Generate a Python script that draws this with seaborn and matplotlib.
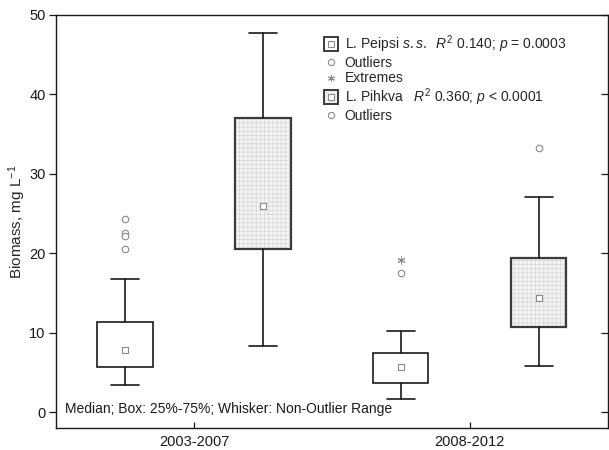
import numpy as np
import pandas as pd
import matplotlib
matplotlib.use("Agg")
import matplotlib.pyplot as plt
from matplotlib.lines import Line2D
from matplotlib.legend_handler import HandlerTuple
import seaborn as sns

# ---------------- data ----------------
periods = ["2003-2007", "2008-2012"]
lakes = ["L. Peipsi", "L. Pihkva"]

peipsi_med = [7.8, 5.7]
peipsi_q1 = [5.7, 3.6]
peipsi_q3 = [11.3, 7.4]
peipsi_wlo = [3.4, 1.6]
peipsi_whi = [16.7, 10.2]

pihkva_med = [25.9, 14.4]
pihkva_q1 = [20.5, 10.7]
pihkva_q3 = [37.0, 19.4]
pihkva_wlo = [8.3, 5.8]
pihkva_whi = [47.7, 27.1]

peipsi_out_period = ["2003-2007", "2003-2007", "2003-2007", "2003-2007", "2008-2012"]
peipsi_out_value = [24.3, 22.5, 22.1, 20.5, 17.5]
peipsi_ext_period = ["2008-2012"]
peipsi_ext_value = [19.2]
pihkva_out_period = ["2008-2012"]
pihkva_out_value = [33.2]

ylabel = "Biomass, mg L$^{-1}$"
note = "Median; Box: 25%-75%; Whisker: Non-Outlier Range"
label_peipsi = "L. Peipsi $\\it{s.s.}$  $\\it{R}^2$ 0.140; $\\it{p}$ = 0.0003"
label_pihkva = "L. Pihkva   $\\it{R}^2$ 0.360; $\\it{p}$ < 0.0001"

# ---------------- style ----------------
sns.set_theme(style="ticks")
plt.rcParams["font.family"] = ["Liberation Sans", "DejaVu Sans"]
plt.rcParams["mathtext.fontset"] = "custom"
plt.rcParams["mathtext.rm"] = "Liberation Sans"
plt.rcParams["mathtext.it"] = "Liberation Sans:italic"
plt.rcParams["mathtext.bf"] = "Liberation Sans:bold"
plt.rcParams["hatch.linewidth"] = 0.6

fig = plt.figure(figsize=(6.09, 4.5), dpi=100)
ax = fig.add_axes([0.092, 0.049, 0.906, 0.918])

offset = {"L. Peipsi": -0.25, "L. Pihkva": 0.25}
xpos = {p: i for i, p in enumerate(periods)}

def stats(med, q1, q3, lo, hi):
    return [dict(med=m, q1=a, q3=b, whislo=l, whishi=h, fliers=[])
            for m, a, b, l, h in zip(med, q1, q3, lo, hi)]

pos_pe = [xpos[p] + offset["L. Peipsi"] for p in periods]
pos_pi = [xpos[p] + offset["L. Pihkva"] for p in periods]

st_pe = stats(peipsi_med, peipsi_q1, peipsi_q3, peipsi_wlo, peipsi_whi)
st_pi = stats(pihkva_med, pihkva_q1, pihkva_q3, pihkva_wlo, pihkva_whi)

# hatched light fill for Pihkva
ax.bxp(st_pi, positions=pos_pi, widths=0.2, patch_artist=True, showcaps=False,
       boxprops=dict(facecolor="#f4f4f4", edgecolor="#dadada", hatch="++++", linewidth=0),
       whiskerprops=dict(linewidth=0), medianprops=dict(linewidth=0), zorder=1)

lw = 1.2
ax.bxp(st_pe, positions=pos_pe, widths=0.2, capwidths=0.1, patch_artist=True,
       boxprops=dict(facecolor="white", edgecolor="#1a1a1a", linewidth=lw),
       whiskerprops=dict(color="#1a1a1a", linewidth=lw),
       capprops=dict(color="#1a1a1a", linewidth=lw),
       medianprops=dict(linewidth=0), zorder=2)
ax.bxp(st_pi, positions=pos_pi, widths=0.2, capwidths=0.1, patch_artist=True,
       boxprops=dict(facecolor="none", edgecolor="#3a3a3a", linewidth=1.6),
       whiskerprops=dict(color="#1a1a1a", linewidth=lw),
       capprops=dict(color="#1a1a1a", linewidth=lw),
       medianprops=dict(linewidth=0), zorder=2)

# medians
med_df = pd.DataFrame({"pos": pos_pe + pos_pi, "value": peipsi_med + pihkva_med})
sns.scatterplot(data=med_df, x="pos", y="value", marker="s", s=22,
                facecolor="white", edgecolor="#8a8a8a", linewidth=0.8, ax=ax, zorder=4)

out_df = pd.DataFrame({
    "pos": [xpos[p] + offset["L. Peipsi"] for p in peipsi_out_period]
           + [xpos[p] + offset["L. Pihkva"] for p in pihkva_out_period],
    "value": peipsi_out_value + pihkva_out_value})
sns.scatterplot(data=out_df, x="pos", y="value", marker="o", s=22,
                facecolor="white", edgecolor="#8a8a8a", linewidth=0.8, ax=ax, zorder=4)

ext_df = pd.DataFrame({"pos": [xpos[p] + offset["L. Peipsi"] for p in peipsi_ext_period],
                       "value": peipsi_ext_value})
sns.scatterplot(data=ext_df, x="pos", y="value", marker=(6, 2, 0), s=25,
                color="#8a8a8a", linewidth=0.7, ax=ax, zorder=4)

# axes
ax.set_xlim(-0.5, 1.5)
ax.set_ylim(-2, 50)
ax.set_xticks(range(len(periods)))
ax.set_xticklabels(periods)
ax.set_yticks([0, 10, 20, 30, 40, 50])
ax.set_xlabel("")
ax.set_ylabel(ylabel, fontsize=11, labelpad=1)
for s in ax.spines.values():
    s.set_visible(True)
    s.set_color("#1a1a1a")
    s.set_linewidth(1.0)
ax.tick_params(axis="y", which="both", direction="out", length=5, width=0.9,
               colors="#1a1a1a", labelsize=10.5, right=True, labelright=False, pad=2.5)
ax.tick_params(axis="x", direction="in", length=4, width=0.9, colors="#1a1a1a",
               labelsize=10.5, pad=5)
for t in ax.yaxis.get_ticklines()[1::2]:
    t.set_marker(matplotlib.markers.TICKLEFT)

ax.text(0.017, 0.045, note, transform=ax.transAxes, fontsize=10, ha="left", va="center",
        color="#1a1a1a")

# legend
h_pe = (Line2D([], [], marker="s", ms=10, mfc="white", mec="#1a1a1a", mew=1.2, ls=""),
        Line2D([], [], marker="s", ms=4, mfc="white", mec="#8a8a8a", mew=0.8, ls=""))
h_out = Line2D([], [], marker="o", ms=4.5, mfc="white", mec="#8a8a8a", mew=0.8, ls="")
h_ext = Line2D([], [], marker=(6, 2, 0), ms=5, color="#8a8a8a", mew=0.7, ls="")
h_pi = (Line2D([], [], marker="s", ms=10, mfc="#ececec", mec="#3a3a3a", mew=1.4, ls=""),
        Line2D([], [], marker="s", ms=4, mfc="white", mec="#8a8a8a", mew=0.8, ls=""))
ax.legend([h_pe, h_out, h_ext, h_pi, h_out],
          [label_peipsi, "Outliers", "Extremes", label_pihkva, "Outliers"],
          handler_map={tuple: HandlerTuple(ndivide=1, pad=0)},
          loc="upper left", bbox_to_anchor=(0.475, 0.968), frameon=False,
          fontsize=10, handlelength=1.0, handletextpad=0.5, labelspacing=0.08,
          borderaxespad=0)

fig.savefig("out.png", dpi=100)
